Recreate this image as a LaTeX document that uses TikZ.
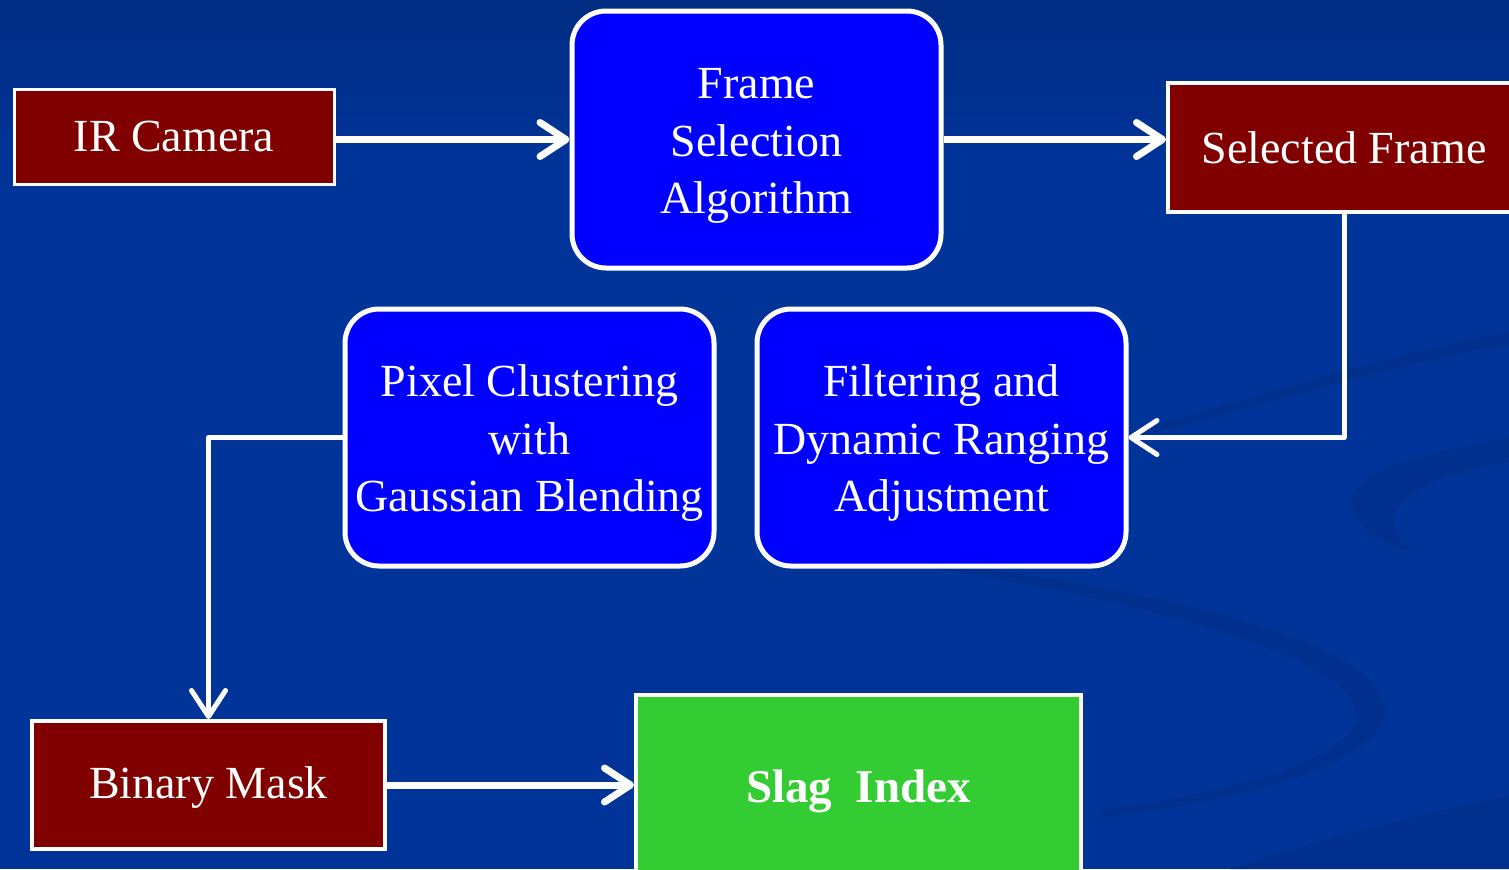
\documentclass[tikz,border=0pt]{standalone}
\usepackage{fontspec}
\setmainfont{Liberation Serif}
\usetikzlibrary{arrows.meta}
\definecolor{bgblue}{RGB}{0,52,153}
\definecolor{bgtop}{RGB}{0,44,130}
\definecolor{swoosh}{RGB}{0,47,142}
\definecolor{datared}{RGB}{128,0,0}
\definecolor{procblue}{RGB}{0,0,255}
\definecolor{slaggreen}{RGB}{51,204,51}
% taller first line so the text block sits a little lower in its box
\newcommand{\tallstrut}{\rule{0pt}{21.5pt}}

\begin{document}
\begin{tikzpicture}[x=0.5pt,y=-0.5pt,
  txt/.style={text=white, font=\fontsize{23}{28.75}\selectfont, align=center, inner sep=0pt},
  datbox/.style={txt, draw=white, fill=datared, line width=1.5pt},
  procbox/.style={txt, draw=white, fill=procblue, line width=2.5pt, rounded corners=17pt,
                  minimum width=184.5pt, minimum height=128.5pt},
  resultbox/.style={txt, draw=white, fill=slaggreen, line width=2pt,
                    font=\fontsize{23.5}{28}\selectfont\bfseries,
                    text height=21pt, text depth=5pt},
  flow/.style={white, line width=3.5pt,
               -{Straight Barb[length=13pt,width=17pt,line cap=round,line join=round]}},
  elbow/.style={white, line width=2.5pt, line join=round,
               -{Straight Barb[length=13pt,width=17pt,line cap=round,line join=round]}},
]
% slide background
\fill[bgblue] (0,0) rectangle (1509,869);
\shade[top color=bgtop, bottom color=bgblue] (0,0) rectangle (1509,170);
\useasboundingbox (0,0) rectangle (1509,869);
\clip (0,0) rectangle (1509,869);

% faint decorative swooshes
\fill[swoosh] (1509,332) .. controls (1400,350) and (1250,400) .. (1100,440)
  -- (1100,446) .. controls (1250,410) and (1400,362) .. (1509,345) -- cycle;
\fill[swoosh] (1509,437) .. controls (1420,455) and (1350,470) .. (1352,505)
  .. controls (1355,530) and (1385,545) .. (1415,552)
  .. controls (1395,540) and (1392,525) .. (1395,515)
  .. controls (1405,485) and (1460,470) .. (1509,462) -- cycle;
\fill[swoosh] (880,555) .. controls (1100,580) and (1370,630) .. (1384,705)
  .. controls (1395,760) and (1250,800) .. (1100,818)
  -- (1100,810) .. controls (1240,792) and (1362,755) .. (1356,712)
  .. controls (1345,655) and (1150,600) .. (880,560) -- cycle;
\fill[swoosh] (1230,869) .. controls (1330,835) and (1420,815) .. (1509,795) -- (1509,869) -- cycle;

% blocks
\node[datbox, minimum width=160pt, minimum height=47.5pt] (ir) at (174,136.5) {IR Camera};
\node[procbox] (fs) at (756.5,139.5) {\tallstrut Frame\\Selection\\Algorithm};
\node[datbox, line width=2pt, minimum width=176pt, minimum height=64.5pt] (sf) at (1344,147.5) {Selected Frame};
\node[procbox] (pc) at (529.5,437.5) {\tallstrut Pixel Clustering\\with\\Gaussian Blending};
\node[procbox] (fd) at (941.5,437.5) {\tallstrut Filtering and\\Dynamic Ranging\\Adjustment};
\node[datbox, line width=2pt, minimum width=176.5pt, minimum height=64pt,
      text height=18.7pt, text depth=5pt] (bm) at (208.5,785) {Binary Mask};
\node[resultbox, minimum width=222.5pt, minimum height=91pt] (si) at (858.5,786) {Slag\ \ Index};

% connectors
\draw[flow] (ir.east |- fs.west) -- (fs.west);
\draw[flow] (fs.east) -- (sf.west |- fs.east);
\draw[elbow] (sf.south) |- (fd.east);
\draw[elbow] (pc.west) -| (bm.north);
\draw[flow] (bm.east) -- (si.west |- bm.east);
\end{tikzpicture}
\end{document}
